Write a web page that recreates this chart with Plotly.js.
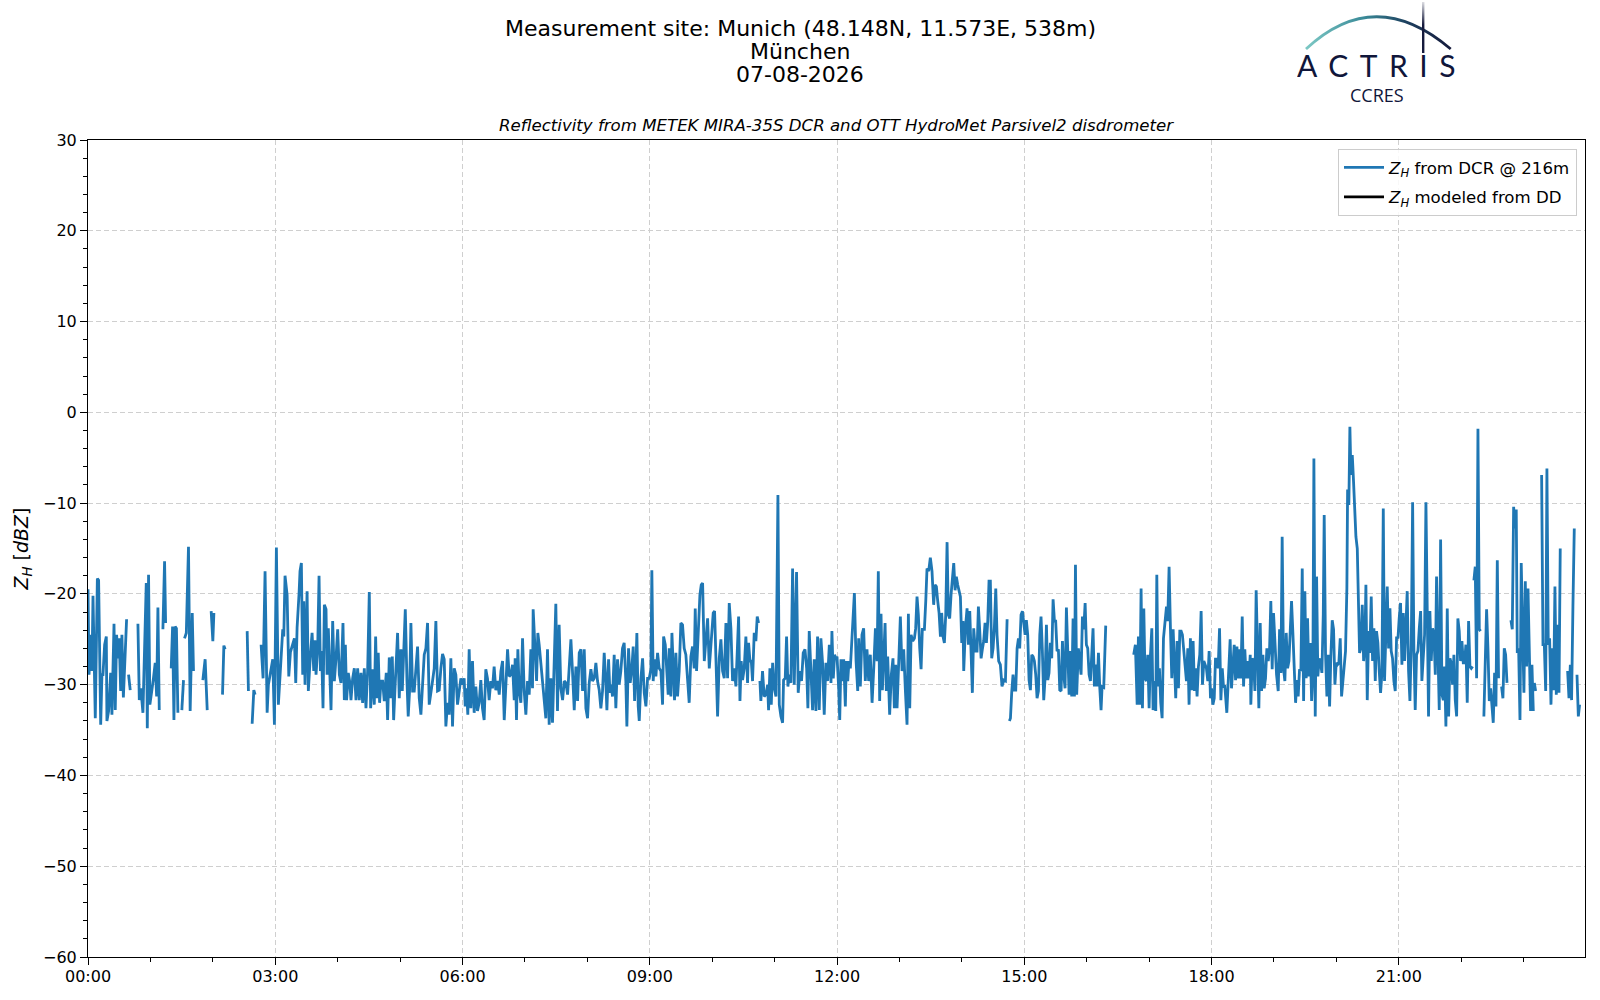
<!DOCTYPE html>
<html>
<head>
<meta charset="utf-8">
<script src="https://cdn.plot.ly/plotly-3.0.1.min.js"></script>
<style>html,body{margin:0;padding:0;background:#fff;}#chart{width:1600px;height:1000px;}</style>
</head>
<body>
<div id="chart"></div>
<script>
// Time in minutes after 00:00, reflectivity in dBZ; null marks a data gap
const dcr0006 = [[0,-19.5],[1,-28.9],[2.6,-24.5],[3.8,-28.5],[4.8,-20.2],[5.8,-28.8],[7,-33.7],[9,-18.3],[10.2,-18.5],[12.2,-34.4],[13.4,-28.9],[14.4,-28.9],[16,-25.6],[17.6,-24.7],[18.2,-34.0],[19.8,-32.9],[21.8,-28.7],[23,-33.3],[25,-23.3],[26.2,-32.8],[27.5,-24.5],[28.8,-27.1],[30,-24.9],[31.4,-30.7],[32.6,-24.5],[34,-31.4],[37.1,-22.8],[38,null],
[39,-28.9],[40.6,-30.6],[44,null],
[48,-23.3],[49.3,-31.7],[50.8,-30.4],[52.8,-33.1],[56,-18.8],[57,-34.8],[58.2,-17.9],[59.5,-32.2],[62.7,-29.5],[64.6,-27.6],[66,-31.3],[67.2,-21.5],[68.5,-32.8],[70,null],
[72,-23.9],[73.6,-16.4],[74.6,-23.2],[77,null],
[80,-28.2],[81.3,-23.6],[82.6,-33.9],[83.8,-23.6],[85,-23.8],[86.4,-33.1],[88,null],
[90.2,-32.8],[91.8,-29.5],[92.3,null],
[92.8,-24.9],[94.5,-24.3],[96.6,-14.8],[98.2,-32.9],[100.2,-22.1],[101.4,-28.5],[105,null],
[110.4,-29.5],[112.6,-27.2],[114.6,-32.8],[116,null],
[118.4,-21.9],[120,-25.2],[121,-22.1],[125,null],
[129.3,-31.1],[130.6,-25.7],[131.8,-26.1],[140,null],
[153,-24.1],[154.2,-30.7],[156,null],
[157.8,-34.3],[159.4,-30.6],[160.6,-31.1],[163,null],
[166.4,-25.6],[168.3,-29.3],[170.2,-17.5],[172.2,-33.1],[173.4,-30.0],[177.6,-27.2],[179.2,-34.4],[181.1,-14.9],[183,-32.2],[187.2,-23.9],[188.2,-24.7],[189.4,-18.0],[191.4,-20.1],[193,-29.1],[194.6,-26.4],
[198.4,-24.9],[199.7,-29.8],[201,-23.7],[202.9,-19.9],[203.8,-17.5],[205.1,-16.6],[206.4,-28.9],[207.4,-20.8],[208.6,-30.0],[210.6,-19.7],[211.8,-30.7],[213.8,-26.7],[215.4,-24.3],[217,-28.5],[218.2,-25.1],[219.2,-28.9],[220.8,-26.0],[222.1,-18.0],[223.4,-28.5],[224.6,-26.3],[225.9,-32.6],[227.2,-21.2],[228.8,-21.7],[229.8,-28.9],[231,-23.8],[232.3,-28.2],[233.6,-32.8],[235.2,-23.0],[236.8,-29.6],[238.4,-27.1],[240,-23.9],[241.6,-28.9],[243.2,-29.8],[245.1,-23.2],[246.4,-31.7],[247.4,-25.6],[248.6,-31.7],[250.2,-28.7],[251.5,-29.6],[252.8,-31.7],[254.4,-29.3],[256,-28.2],[257.6,-31.7],[259.2,-28.2],[260.8,-31.7],[262.4,-28.7],[264,-32.0],[265.6,-28.2],[267.2,-32.6],[268.8,-28.5],[270.4,-19.8],[271.7,-32.6],[273.6,-28.3],[275.2,-32.2],[276.5,-24.7],[277.8,-31.5],[279,-26.5],[280.3,-32.0],[281.6,-29.6],[283.2,-29.6],[284.8,-31.8],[286.7,-28.7],[288,-33.9],[289.6,-27.0],[291.2,-31.5],[292.5,-26.9],[293.8,-33.9],[295,-30.7],[296.3,-27.8],[297.6,-24.3],[299.2,-31.5],[300.8,-26.1],[302.1,-30.7],[303.4,-26.0],[305,-21.7],[306.6,-29.6],[307.8,-33.5],[309.1,-30.7],[310.4,-23.2],[312,-30.7],[313.6,-30.7],[316.8,-25.8],[318.4,-31.5],[320,-33.3],[321.6,-29.6],[323.2,-26.7],[324.8,-26.0],[326.4,-23.2],[328,-32.2],[329.6,-31.1],[331.2,-29.6],[332.8,-28.2],[334.4,-23.0],[336,-30.7],[337.6,-30.6],[339.2,-28.2],[340.8,-26.6],[342.4,-27.2],[344,-34.6],[345.6,-32.0],[347.2,-33.3],[348.8,-27.1],[350.4,-34.6],[352,-28.2],[353.6,-28.9],[355.2,-32.2],[356.8,-30.4],[358.4,-29.3]];

const dcr0612 = [[360,-30.0],[361.6,-29.3],[362.6,-32.4],[363.8,-30.4],[365.1,-33.3],[366.4,-26.1],[368,-32.6],[369.6,-27.4],[371.2,-33.1],[372.8,-30.2],[374.4,-32.9],[376,-32.0],[377.6,-29.5],[379.2,-32.6],[380.8,-33.9],[382.4,-28.3],[384,-29.3],[385.6,-31.7],[387.2,-29.6],[388.8,-30.4],[390.4,-28.0],[392,-30.6],[393.7,-29.6],[395.3,-31.1],[396.9,-28.5],[398.5,-27.4],[400.1,-33.9],[401.7,-28.9],[403.3,-26.1],[404.9,-29.1],[406.5,-28.9],[408.1,-27.8],[409.7,-31.7],[410.6,-27.1],[411.9,-33.9],[413.2,-26.1],[414.5,-30.7],[416.1,-32.0],[417.7,-24.9],[419.3,-30.7],[420.9,-33.3],[422.5,-29.6],[424.1,-31.1],[425.7,-26.1],[427.3,-30.4],[427.9,-21.7],[429.9,-27.2],[431.2,-29.6],[432.4,-24.3],[433.7,-25.6],[440.1,-33.7],[441.7,-26.1],[443.3,-34.4],[444.9,-29.3],[446.5,-34.2],[448.1,-27.4],[449.7,-21.1],[451.3,-32.9],[452.9,-23.4],[454.5,-30.4],[456.2,-31.7],[457.8,-29.6],[459.4,-29.8],[461,-31.1],[462.6,-27.8],[464.2,-25.0],[465.8,-28.7],[467.4,-32.8],[469,-28.0],[470.6,-31.8],[472.2,-26.5],[473.8,-26.1],[475.4,-30.7],[477,-26.1],[478.6,-32.6],[480.2,-33.7],[481.8,-29.8],[483.4,-28.3],[485,-29.6],[486.6,-29.3],[488.2,-27.6],[489.8,-29.6],[491.4,-30.6],[493,-32.6],[494.6,-30.7],[496.2,-26.5],[497.8,-29.8],[498.8,-32.8],[500.4,-27.2],[501.7,-30.9],[502.9,-30.0],[504.2,-31.3],[505.8,-26.7],[507.4,-32.6],[509,-27.2],[510.6,-30.0],[512.2,-28.5],[513.8,-26.0],[515.4,-25.4],[517,-29.6],[518,-34.6],[519.6,-26.0],[521.2,-29.8],[522.8,-28.2],[524.1,-25.8],[525.4,-31.8],[526.7,-28.0],[527.6,-24.3],[528.9,-32.4],[529.9,-34.0],[531.5,-29.3],[533.1,-27.1],[534.7,-30.9],[536.3,-32.4],[537.9,-29.3],[539.5,-29.3],[541.1,-28.3],[542,-17.4],[543.3,-29.6],[544.6,-27.2],[545.9,-29.1],[547.5,-26.5],[549.1,-28.2],[550.7,-28.5],[552.3,-32.2],[553.3,-24.7],[554.9,-25.6],[556.1,-28.2],[557.7,-31.1],[558.7,-26.0],[560.3,-31.3],[561.3,-24.3],[562.6,-27.8],[563.8,-31.7],[565.1,-26.5],[566.7,-31.3],[568.3,-28.5],[569.9,-23.2],[571.5,-23.4],[573.1,-26.0],[574.7,-26.7],[576.3,-29.3],[577.9,-32.0],[579.5,-26.9],[581.1,-25.8],[582.7,-28.2],[583.7,-21.6],[585,-28.5],[586.9,-24.3],[588.2,-20.1],[589.5,-19.0],[590.8,-18.8],[592.4,-27.4],[594,-24.5],[595.6,-22.7],[597.2,-28.2],[598.5,-26.0],[599.7,-24.1],[601,-22.1],[602.3,-21.9],[603.6,-26.3],[605.2,-33.5],[606.8,-27.1],[608.4,-25.0],[610,-28.5],[611.6,-29.3],[613.2,-23.2],[614.8,-29.3],[616.4,-21.0],[618,-23.8],[619.6,-29.6],[621.2,-28.2],[622.8,-30.2],[624.4,-25.0],[625.4,-22.5],[626.7,-31.8],[627.9,-27.4],[629.2,-29.5],[630.8,-28.2],[632.4,-24.7],[634,-29.8],[635,-25.4],[636.3,-27.4],[637.6,-27.4],[638.8,-29.6],[640.4,-24.3],[642,-25.2],[643.3,-22.5],[644.6,-23.2],[645.3,null],
[645.9,-29.6],[646.8,-31.8],[648.4,-28.5],[650,-31.3],[651.7,-31.1],[653.3,-30.0],[654.2,-32.8],[655.5,-28.2],[656.8,-32.2],[658.1,-27.6],[659.7,-30.4],[661.3,-31.3],[663.2,-9.1],[664.5,-32.2],[666.1,-33.5],[667.7,-34.2],[668.6,-29.5],[670.2,-29.3],[671.5,-24.7],[672.8,-30.2],[674.1,-28.9],[675.7,-29.8],[677.3,-17.2],[678.9,-30.0],[681.1,-17.6],[682.7,-30.9],[684.3,-28.5],[685.9,-29.6],[687.5,-26.5],[689.2,-26.1],[690.8,-28.2],[692,-32.6],[693.3,-24.1],[694.9,-29.3],[696.5,-32.8],[698.1,-27.2],[699.7,-32.9],[701.3,-24.7],[702.9,-32.8],[704.5,-24.9],[706.1,-27.6],[707.7,-33.3],[709.3,-27.6],[710.9,-29.6],[712.6,-25.6],[714.2,-29.8],[715.1,-24.1],[716.4,-29.3],[717.7,-26.7],[719,-27.2]];

const dcr1218 = [[720,-26.9],[721.6,-30.4],[722.6,-33.9],[723.8,-27.2],[725.1,-29.6],[726.4,-27.2],[728,-32.4],[729,-27.4],[730.3,-29.6],[731.5,-27.4],[732.8,-28.2],[736.7,-19.9],[738.3,-27.4],[739.9,-30.7],[740.8,-24.9],[742.4,-30.2],[744,-24.5],[745.6,-23.8],[747.2,-29.6],[748.8,-26.1],[750.4,-29.6],[752,-26.7],[753.7,-32.0],[755.3,-28.2],[756.9,-23.8],[758.5,-27.4],[759.7,-17.5],[761,-31.8],[762.3,-22.2],[763.6,-30.6],[764.9,-26.7],[766.2,-23.2],[767.4,-30.7],[768.7,-26.9],[770.6,-33.3],[772.2,-28.9],[773.8,-27.1],[775.1,-32.6],[776.4,-27.8],[777.7,-32.6],[779,-28.5],[780.9,-22.5],[782.5,-28.5],[784.1,-26.1],[785.7,-30.6],[787.3,-34.4],[788.6,-22.2],[789.9,-32.6],[791.2,-24.5],[792.8,-25.2],[794.4,-24.9],[795.6,-23.8],[796.9,-20.3],[798.2,-22.3],[799.5,-26.0],[800.8,-28.3],[802,-23.9],[804,-23.9],[805.3,-20.8],[806.5,-17.2],[808.1,-17.5],[809.7,-16.0],[811.3,-17.5],[812.9,-21.2],[814.2,-19.0],[815.5,-19.2],[816.8,-20.8],[818.1,-22.1],[819.4,-24.7],[820.6,-22.1],[821.9,-24.7],[823.2,-25.4],[824.5,-22.3],[825.8,-14.3],[827,-22.3],[828.3,-22.7],[829.6,-20.1],[830.9,-18.6],[832.2,-16.6],[833.5,-19.6],[834.7,-18.1],[836,-19.0],[837.3,-19.9],[838.6,-20.3],[839.9,-25.4],[841.1,-23.0],[841.8,-28.5],[843.4,-23.8],[845,-21.6],[846.3,-25.6],[847.6,-21.9],[848.8,-25.6],[850.1,-30.9],[851.4,-23.8],[853,-26.3],[854.6,-26.3],[855.9,-21.4],[857.2,-24.1],[858.5,-27.1],[859.7,-26.1],[861,-25.2],[862.3,-23.2],[863.6,-25.4],[864.9,-23.0],[866.1,-18.6],[867.4,-18.6],[868.7,-27.1],[870,-26.0],[871.3,-23.6],[872.6,-19.4],[873.8,-24.5],[875.4,-27.4],[877,-27.8],[878.6,-30.2],[880.3,-29.5],[881.9,-29.6],[883.5,-22.8],[884.5,null],
[885.7,-34.0],[886.7,-33.7],[887.9,-30.9],[889.2,-28.9],[890.5,-30.6],[891.8,-30.6],[893.1,-26.0],[894.4,-24.9],[895.6,-26.0],[896.9,-22.3],[898.2,-21.9],[899.5,-23.0],[900.8,-24.5],[902,-22.9],[903.3,-24.5],[904.6,-29.5],[905.9,-30.6],[907.2,-26.7],[908.5,-26.9],[909.7,-27.4],[911,-28.9],[912.3,-31.5],[913.6,-30.7],[914.9,-24.5],[916.1,-22.5],[917.4,-26.3],[918.7,-31.7],[920,-29.3],[921.3,-23.4],[922.6,-29.5],[923.8,-28.7],[925.1,-25.4],[926.4,-27.1],[927.7,-20.6],[929,-23.0],[930.2,-23.0],[931.5,-26.3],[932.8,-26.1],[934.1,-30.6],[935.4,-30.7],[936.7,-25.2],[937.9,-28.9],[939.2,-30.4],[940.5,-21.5],[941.8,-26.0],[943.1,-31.1],[944.4,-26.3],[945.6,-31.3],[946.9,-22.7],[948.2,-31.3],[949.2,-16.8],[950.4,-31.1],[952,-26.0],[953.3,-27.8],[954.6,-28.9],[955.9,-22.5],[957.2,-23.9],[958.5,-21.0],[959.7,-25.6],[961,-26.0],[962.3,-28.9],[963.6,-29.6],[964.9,-25.6],[966.1,-23.8],[967.4,-30.2],[968.7,-27.8],[970,-30.2],[971.3,-26.5],[972.6,-30.4],[973.8,-32.8],[974.8,-30.2],[976.4,-30.3],[978.3,-23.5],[990,null],
[1005.2,-26.7],[1006.8,-25.6],[1008.5,-32.2],[1009.7,-24.7],[1011,-32.2],[1012.3,-19.4],[1013.6,-32.6],[1014.9,-21.6],[1016.1,-29.3],[1017.4,-29.6],[1018.7,-26.7],[1020,-32.6],[1021.3,-26.7],[1022.6,-23.8],[1023.8,-32.8],[1025.1,-29.6],[1026.4,-32.9],[1027.4,-17.9],[1028.6,-30.2],[1029.9,-28.2],[1031.2,-32.0],[1032.5,-33.7],[1033.8,-24.9],[1036.7,-21.4],[1037.9,-23.0],[1039.2,-17.0],[1040.5,-23.8],[1041.8,-29.3],[1043.1,-23.9],[1044.3,-27.4],[1045.6,-31.5],[1046.9,-25.2],[1048.2,-30.4],[1049.5,-24.1],[1050.8,-24.1],[1052,-24.5],[1053.3,-26.3],[1054.6,-27.2],[1055.9,-29.6],[1057.2,-26.0],[1058.4,-32.2],[1059.7,-24.9],[1061,-30.6],[1062.3,-25.2],[1063.6,-30.7],[1064.9,-28.2],[1066.1,-31.3],[1067.4,-28.0],[1068.7,-26.7],[1070,-21.9],[1071.3,-30.0],[1072.6,-27.4],[1073.8,-27.8],[1075.1,-28.2],[1076.4,-29.6],[1077.7,-26.3],[1079,-31.5]];

const dcr1824 = [[1080,-30.4],[1081.3,-32.2],[1082.6,-31.5],[1083.8,-27.2],[1085.1,-27.2],[1086.4,-28.2],[1087.7,-23.8],[1089,-31.7],[1090.3,-28.2],[1091.5,-30.2],[1092.8,-30.2],[1094.7,-33.1],[1096.7,-27.4],[1097.9,-25.0],[1099.2,-30.4],[1100.5,-28.2],[1101.8,-25.6],[1103.1,-29.5],[1104.4,-25.8],[1105.6,-29.3],[1106.9,-26.1],[1108.2,-29.3],[1109.5,-22.5],[1110.8,-30.2],[1112,-26.1],[1113.3,-29.3],[1114.6,-27.4],[1115.9,-29.3],[1117.2,-26.7],[1117.8,-32.2],[1119.1,-27.1],[1120.4,-27.4],[1121.7,-30.7],[1122.9,-19.6],[1124.2,-28.2],[1125.5,-32.6],[1126.8,-23.2],[1128.1,-30.7],[1129.4,-26.7],[1130.6,-30.4],[1131.9,-29.3],[1133.2,-26.0],[1134.5,-27.4],[1135.8,-26.0],[1137,-20.8],[1138.3,-28.3],[1139.6,-22.1],[1140.9,-26.0],[1142.5,-28.9],[1144.1,-30.7],[1145.4,-23.9],[1146.7,-28.7],[1147.9,-13.7],[1149.2,-28.2],[1150.5,-29.6],[1151.8,-24.3],[1153.1,-28.2],[1154.4,-27.4],[1155.6,-24.3],[1156.9,-20.8],[1158.2,-24.3],[1159.5,-28.9],[1160.8,-32.0],[1162,-29.5],[1163.3,-31.3],[1164.6,-28.3],[1165.9,-28.5],[1167.2,-17.2],[1168.5,-31.8],[1169.7,-19.7],[1171,-29.3],[1172.3,-22.7],[1173.6,-29.1],[1174.9,-25.4],[1176.2,-31.8],[1177.4,-28.9],[1178.4,-5.1],[1179.7,-33.5],[1181,-18.1],[1182.2,-29.1],[1183.5,-27.1],[1184.8,-27.6],[1186.1,-28.7],[1187.4,-22.3],[1188.3,-11.3],[1189.6,-26.7],[1190.9,-31.3],[1192.2,-26.7],[1193.5,-32.4],[1194.7,-26.9],[1196,-22.9],[1197.3,-23.9],[1198.6,-30.0],[1199.9,-27.6],[1201.1,-27.8],[1202.4,-27.6],[1203.7,-24.9],[1205,-31.3],[1207.6,-27.4],[1208.8,-26.3],[1210.1,-19.4],[1210.8,-8.5],[1212,-10.2],[1213,-1.6],[1214,-6.9],[1215.3,-4.7],[1216.5,-7.6],[1217.8,-11.3],[1218.8,-13.7],[1220.1,-15.0],[1221,-18.8],[1222.3,-26.5],[1223.6,-26.0],[1224.9,-21.2],[1226.2,-27.4],[1227.4,-25.6],[1228.4,-19.0],[1229.7,-31.7],[1231,-24.1],[1232.2,-26.5],[1233.5,-20.3],[1234.8,-27.4],[1236.1,-23.8],[1237.4,-29.6],[1238.6,-24.1],[1239.9,-25.4],[1241.2,-28.5],[1242.5,-30.9],[1243.8,-28.7],[1245.1,-10.6],[1246.3,-29.6],[1247.6,-24.1],[1248.9,-19.2],[1250.2,-26.0],[1251.5,-21.6],[1252.7,-26.3],[1254,-27.1],[1255.3,-29.6],[1256.6,-30.7],[1257.9,-24.7],[1259.2,-24.9],[1260.4,-22.7],[1261.7,-21.0],[1263,-27.8],[1264.3,-22.1],[1265.6,-27.4],[1266.9,-22.3],[1268.1,-19.7],[1269.4,-28.5],[1270.7,-31.8],[1272,-25.6],[1273.3,-9.9],[1274.5,-26.0],[1275.8,-32.8],[1277.1,-26.7],[1278.4,-26.3],[1279.7,-23.8],[1281,-21.9],[1282.2,-29.6],[1283.5,-27.4],[1284.8,-24.5],[1286.1,-9.9],[1287.4,-23.8],[1288.6,-33.5],[1289.9,-21.9],[1291.2,-27.4],[1292.5,-23.8],[1293.8,-24.5],[1295.1,-28.9],[1296.3,-18.1],[1297.6,-26.0],[1298.9,-32.8],[1300.2,-14.0],[1301.5,-31.1],[1302.8,-31.7],[1304,-28.0],[1305.3,-34.6],[1306.6,-21.6],[1307.9,-33.5],[1309.2,-27.1],[1310.4,-27.6],[1311.7,-30.0],[1313,-26.7],[1314.3,-31.7],[1315.6,-33.5],[1316.8,-22.7],[1318.1,-24.1],[1319.4,-27.4],[1320.7,-25.2],[1322,-27.6],[1323.3,-27.6],[1324.5,-25.6],[1325.8,-32.0],[1327.1,-23.0],[1328.4,-28.0],[1329.7,-28.2],[1331,-28.0],[1331.8,null],
[1332.2,-18.5],[1333.5,-17.0],[1334.8,-29.3],[1336.1,-1.8],[1337.4,-23.9],[1338.6,-24.1],[1340,null],
[1341.8,-33.5],[1343.1,-26.0],[1344.4,-21.7],[1345.7,-26.0],[1347,-31.8],[1348.3,-30.4],[1349.5,-32.6],[1350.8,-34.2],[1352.1,-28.7],[1353.4,-32.4],[1354.7,-16.3],[1355.9,-29.3],[1357.5,null],
[1358.8,-30.2],[1360.1,-31.5],[1361.4,-26.0],[1362.7,-26.7],[1364,-29.8],[1366,null],
[1367.8,-22.9],[1369.1,-23.9],[1370.4,-10.4],[1371.7,-12.8],[1372.9,-10.7],[1373.9,-26.5],[1375.2,-26.0],[1376.5,-33.9],[1377.7,-16.6],[1379,-23.0],[1380.3,-30.9],[1381.6,-18.6],[1382.9,-28.0],[1384.2,-19.4],[1385.4,-28.2],[1386.7,-32.9],[1388,-27.8],[1389.3,-32.9],[1389.8,null],
[1390.3,-29.8],[1391.5,-30.7],[1395,null],
[1397.3,-6.9],[1398.6,-25.6],[1399.9,-25.6],[1401.2,-30.7],[1402.4,-6.2],[1403.7,-25.6],[1405,-24.9],[1406.3,-32.2],[1407.6,-26.0],[1408.8,-30.6],[1410.1,-19.2],[1411.4,-31.1],[1412.7,-23.4],[1414,-30.9],[1415.2,-15.0],[1418,null],
[1422.3,-28.5],[1423.6,-31.5],[1424.9,-27.8],[1426.1,-31.7],[1427.4,-21.4],[1428.7,-12.8],[1429.5,null],
[1431.3,-28.9],[1432.6,-33.5],[1433.8,-32.2]];

// Modeled reflectivity from the disdrometer: no values on this day
const ddModel = [];

const tickMinutes = [0, 180, 360, 540, 720, 900, 1080, 1260];
const tickLabels = ['00:00', '03:00', '06:00', '09:00', '12:00', '15:00', '18:00', '21:00'];

const titleLines = ['Measurement site: Munich (48.148N, 11.573E, 538m)', 'München', '07-08-2026'];
const subTitle = 'Reflectivity from METEK MIRA-35S DCR and OTT HydroMet Parsivel2 disdrometer';

const dcrAll = [].concat(dcr0006, dcr0612, dcr1218, dcr1824);
const FONT = 'DejaVu Sans, Liberation Sans, sans-serif';

const traces = [
  {
    x: dcrAll.map(p => p[0]),
    y: dcrAll.map(p => p[1]),
    type: 'scatter', mode: 'lines',
    name: '<i>Z<sub>H</sub></i> from DCR @ 216m',
    legendgroup: 'dcr',
    line: {color: '#1f77b4', width: 2.8},
    connectgaps: false
  },
  {
    x: ddModel.length ? ddModel.map(p => p[0]) : [null],
    y: ddModel.length ? ddModel.map(p => p[1]) : [null],
    type: 'scatter', mode: 'lines',
    name: '<i>Z<sub>H</sub></i> modeled from DD',
    legendgroup: 'dd',
    line: {color: '#000000', width: 2.8}
  }
];

const L = 88, R = 1585, T = 140, B = 957;
const px = v => (v - L) / (R - L);
const py = v => (B - v) / (B - T);

const logoSvg = "<svg xmlns='http://www.w3.org/2000/svg' width='160' height='56' viewBox='0 0 160 56'>" +
  "<defs><linearGradient id='g' x1='0' y1='0' x2='1' y2='0'>" +
  "<stop offset='0' stop-color='#7cc8c4'/><stop offset='0.4' stop-color='#3a8a98'/><stop offset='0.7' stop-color='#1d3f5e'/><stop offset='1' stop-color='#151a3c'/></linearGradient>" +
  "<linearGradient id='v' x1='0' y1='0' x2='0' y2='1'><stop offset='0' stop-color='#151a3c' stop-opacity='0.15'/><stop offset='0.45' stop-color='#151a3c'/><stop offset='1' stop-color='#151a3c'/></linearGradient></defs>" +
  "<path d='M6 49 Q75 -15.6 150.7 49' fill='none' stroke='url(#g)' stroke-width='2.8'/>" +
  "<rect x='122' y='2' width='2.4' height='51' fill='url(#v)'/></svg>";

const annotations = [
  {text: titleLines[0], x: px(800), y: py(29), yanchor: 'middle', font: {size: 22}},
  {text: titleLines[1], x: px(800), y: py(51.5), yanchor: 'middle', font: {size: 22}},
  {text: titleLines[2], x: px(800), y: py(74.5), yanchor: 'middle', font: {size: 22}},
  {text: '<i>' + subTitle + '</i>', x: 0.5, y: py(125.5), yanchor: 'middle', font: {size: 16.6}},
  {text: '<span style="letter-spacing:11.5px">ACTRIS</span>', x: px(1382), y: py(65), yanchor: 'middle', height: 28, font: {size: 30, color: '#10163a', family: 'Lato, DejaVu Sans, sans-serif'}},
  {text: 'CCRES', x: px(1376.5), y: py(95), yanchor: 'middle', height: 20, font: {size: 18, color: '#10163a', family: 'Open Sans, DejaVu Sans, sans-serif'}}
].map(a => Object.assign({xref: 'paper', yref: 'paper', showarrow: false, xanchor: 'center'}, a, {font: Object.assign({family: FONT, color: '#000'}, a.font)}));

const axisCommon = {
  showline: true, linecolor: '#000', linewidth: 1, mirror: true,
  ticks: 'outside', ticklen: 7, tickwidth: 1, tickcolor: '#000',
  showgrid: true, gridcolor: '#cfcfcf', gridwidth: 1, griddash: '5px,3px',
  zeroline: false,
  tickfont: {family: FONT, size: 16, color: '#000'}
};

const layout = {
  width: 1600, height: 1000,
  margin: {l: L, r: 1600 - R, t: T, b: 1000 - B},
  paper_bgcolor: '#fff', plot_bgcolor: '#fff',
  font: {family: FONT, size: 16, color: '#000'},
  showlegend: true,
  legend: {
    x: px(1577), xanchor: 'right', y: py(149), yanchor: 'top',
    bordercolor: '#cccccc', borderwidth: 1, bgcolor: 'rgba(255,255,255,0.85)',
    font: {family: FONT, size: 16.6, color: '#000'},
    tracegroupgap: 5, itemwidth: 40
  },
  xaxis: Object.assign({}, axisCommon, {
    range: [0, 1439], tickmode: 'array', tickvals: tickMinutes, ticktext: tickLabels,
    ticklabelstandoff: -2,
    minor: {dtick: 60, tick0: 0, ticks: 'outside', ticklen: 4, tickcolor: '#000', showgrid: false}
  }),
  yaxis: Object.assign({}, axisCommon, {
    range: [-60, 30], tickmode: 'linear', tick0: 0, dtick: 10,
    minor: {dtick: 2, tick0: 0, ticks: 'outside', ticklen: 4, tickcolor: '#000', showgrid: false},
    title: {text: '<i>Z<sub>H</sub></i> [<i>dBZ</i>]', font: {family: FONT, size: 19, color: '#000'}, standoff: 9}
  }),
  annotations: annotations,
  images: [{
    source: 'data:image/svg+xml;charset=utf-8,' + encodeURIComponent(logoSvg),
    xref: 'paper', yref: 'paper', x: px(1300), y: py(0), sizex: 160 / (R - L), sizey: 56 / (B - T),
    xanchor: 'left', yanchor: 'top', sizing: 'stretch', layer: 'above'
  }]
};

Plotly.newPlot('chart', traces, layout, {displayModeBar: false, staticPlot: true});
</script>
</body>
</html>
